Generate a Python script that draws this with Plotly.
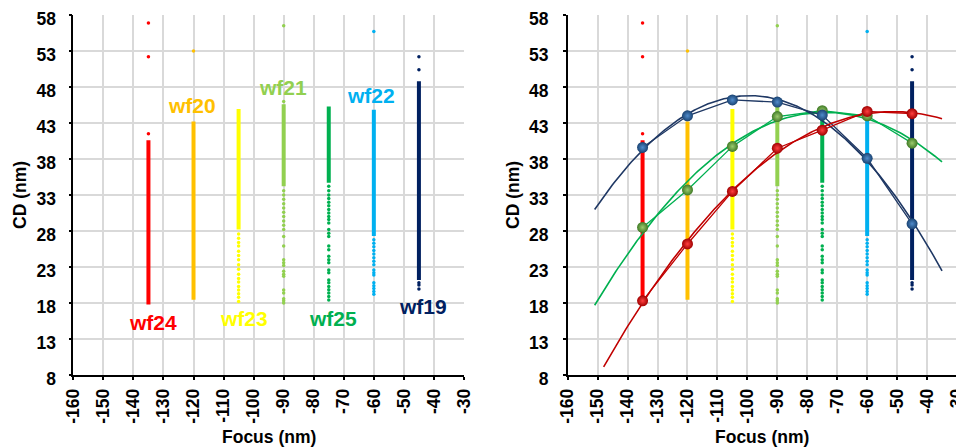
import numpy as np
import plotly.graph_objects as go

# ---------------- data ----------------
focus = [-135, -120, -105, -90, -75, -60, -45]
wafers = ["wf24", "wf20", "wf23", "wf21", "wf25", "wf22", "wf19"]
wafer_colors = ["#FF0000", "#FFC000", "#FFFF00", "#92D050", "#00B050", "#00B0F0", "#002060"]

# continuous (dense) CD range of each wafer's measurement cloud
dense_lo = [17.8, 18.45, 28.2, 34.2, 34.7, 27.3, 21.2]
dense_hi = [40.6, 43.2, 44.95, 45.6, 45.3, 44.85, 48.8]

# individual (sparse / outlier) CD measurements of each wafer
sparse_wf24 = [41.5, 52.2, 56.9]
sparse_wf20 = [53.0]
sparse_wf23 = [27.6, 27.0, 26.4, 25.9, 25.2, 24.6, 24.0, 23.3, 22.7, 22.0, 21.4,
               20.9, 20.3, 19.8, 19.3, 18.8, 18.2]
sparse_wf21 = [56.5, 46.0, 33.6, 33.0, 32.4, 31.8, 31.2, 30.6, 30.0, 29.4, 28.8, 28.2,
               27.25, 25.9, 24.0, 23.6, 23.2, 22.4, 22.0, 21.7, 19.8, 19.4, 18.6, 18.3, 18.0]
sparse_wf25 = [34.2, 33.6, 33.0, 32.5, 32.0, 31.5, 31.0, 30.5, 30.0, 29.6, 29.1, 28.2,
               27.7, 27.25, 25.9, 25.4, 24.5, 24.0, 23.6, 22.6, 22.2, 21.2, 20.8, 20.3,
               19.85, 19.4, 18.9, 18.4]
sparse_wf22 = [55.7, 26.8, 26.3, 25.8, 25.3, 24.8, 24.3, 23.8, 23.3, 22.6, 22.2, 21.9,
               20.8, 20.4, 20.0, 19.6, 19.2]
sparse_wf19 = [52.2, 50.4, 20.8, 20.5, 19.95]
sparse_all = [sparse_wf24, sparse_wf20, sparse_wf23, sparse_wf21, sparse_wf25,
              sparse_wf22, sparse_wf19]

# wafer label anchor positions (data units)
label_x = [-133.6, -120.4, -103.2, -90.1, -73.5, -61.0, -43.7]
label_y = [15.3, 45.5, 15.9, 48.0, 15.9, 46.8, 17.5]

# mean CD per focus of three groups (right panel)
mean_navy = [39.6, 44.0, 46.2, 45.9, 44.1, 38.1, 29.0]
mean_green = [28.5, 33.7, 39.75, 43.9, 44.7, 44.0, 40.2]
mean_red = [18.3, 26.2, 33.5, 39.5, 42.0, 44.6, 44.3]
trend_start = [-151, -151, -148]
trend_end = [-35, -35, -35]

x_ticks = list(range(-160, -29, 10))
x_ticktext = ["<b>%d</b>" % v for v in x_ticks]
y_ticks = list(range(8, 59, 5))
y_ticktext = ["<b>%d</b>" % v for v in y_ticks]

FONT = "Arial, Liberation Sans, sans-serif"
W, H = 956, 439  # page body adds an 8px margin

fig = go.Figure()


def add_strips(xa, ya):
    for i, w in enumerate(wafers):
        fig.add_trace(go.Scatter(
            x=[focus[i], focus[i]], y=[dense_lo[i], dense_hi[i]],
            mode="lines", line=dict(color=wafer_colors[i], width=4),
            xaxis=xa, yaxis=ya, showlegend=False, hoverinfo="skip"))
        fig.add_trace(go.Scatter(
            x=[focus[i]] * len(sparse_all[i]), y=sparse_all[i],
            mode="markers", marker=dict(color=wafer_colors[i], size=3.5),
            xaxis=xa, yaxis=ya, showlegend=False, hoverinfo="skip"))


add_strips("x", "y")
add_strips("x2", "y2")

# wafer labels on left panel
for i, w in enumerate(wafers):
    fig.add_annotation(x=label_x[i], y=label_y[i], xref="x", yref="y", text="<b>%s</b>" % w,
                       xanchor="center", yanchor="middle",
                       showarrow=False, font=dict(family=FONT, size=21, color=wafer_colors[i]))

# right panel: mean markers + connecting lines + quadratic trendlines
groups = [
    (mean_green, "#00B050", "#3F7A25", "#9CCB6E"),
    (mean_navy, "#1F3864", "#1A4372", "#4F8BCB"),
    (mean_red, "#C00000", "#A00000", "#FF4040"),
]
order_idx = [1, 0, 2]
for gi, (means, lc, mc, hc) in enumerate(groups):
    k = order_idx[gi]
    coef = np.polyfit(focus, means, 2)
    xs = np.linspace(trend_start[k], trend_end[k], 200)
    fig.add_trace(go.Scatter(x=xs, y=np.polyval(coef, xs), mode="lines",
                             line=dict(color=lc, width=1.6), xaxis="x2", yaxis="y2",
                             showlegend=False, hoverinfo="skip"))
    fig.add_trace(go.Scatter(x=focus, y=means, mode="lines",
                             line=dict(color=lc, width=1.3), xaxis="x2", yaxis="y2",
                             showlegend=False, hoverinfo="skip"))
for gi, (means, lc, mc, hc) in enumerate(groups):
    fig.add_trace(go.Scatter(x=focus, y=means, mode="markers",
                             marker=dict(color=mc, size=11, line=dict(width=0),
                                         gradient=dict(type="radial", color=hc)),
                             xaxis="x2", yaxis="y2", showlegend=False, hoverinfo="skip"))

axis_common = dict(
    showgrid=True, gridcolor="#D9D9D9", gridwidth=1.5,
    showline=True, linecolor="#000000", linewidth=1.5,
    ticks="outside", ticklen=3, tickcolor="#000000", tickwidth=1.5,
    tickfont=dict(family=FONT, size=17.5, color="#000000"),
    zeroline=False, fixedrange=True, automargin=False, ticklabeloverflow="allow",
)
xcommon = dict(axis_common, range=[-160, -30], tickmode="array", tickvals=x_ticks,
               ticktext=x_ticktext, tickangle=-90, ticklabelstandoff=2)
ycommon = dict(axis_common, range=[8, 58], tickmode="array", tickvals=y_ticks,
               ticktext=y_ticktext, ticklabelshift=4)

fig.update_layout(
    width=W, height=H,
    margin=dict(l=0, r=0, t=7, b=72),
    paper_bgcolor="white", plot_bgcolor="white",
    xaxis=dict(xcommon, domain=[65.3 / W, 456.0 / W], anchor="y"),
    yaxis=dict(ycommon, domain=[0, 1], anchor="x", ticklabelstandoff=9),
    xaxis2=dict(xcommon, domain=[559.7 / W, 949.0 / W], anchor="y2"),
    yaxis2=dict(ycommon, domain=[0, 1], anchor="x2", ticklabelstandoff=11),
    showlegend=False,
)

# axis titles
for xc, yc_x in [(260.7 / W, 12.0 / W), (754.3 / W, 505.0 / W)]:
    fig.add_annotation(x=xc, y=-0.172, xref="paper", yref="paper", text="<b>Focus (nm)</b>",
                       xanchor="center", yanchor="middle",
                       showarrow=False, font=dict(family=FONT, size=17.5, color="#000000"))
    fig.add_annotation(x=yc_x, y=0.5, xref="paper", yref="paper", text="<b>CD (nm)</b>",
                       textangle=-90, xanchor="center", yanchor="middle", showarrow=False,
                       font=dict(family=FONT, size=17.5, color="#000000"))

fig.write_html("out.html")
